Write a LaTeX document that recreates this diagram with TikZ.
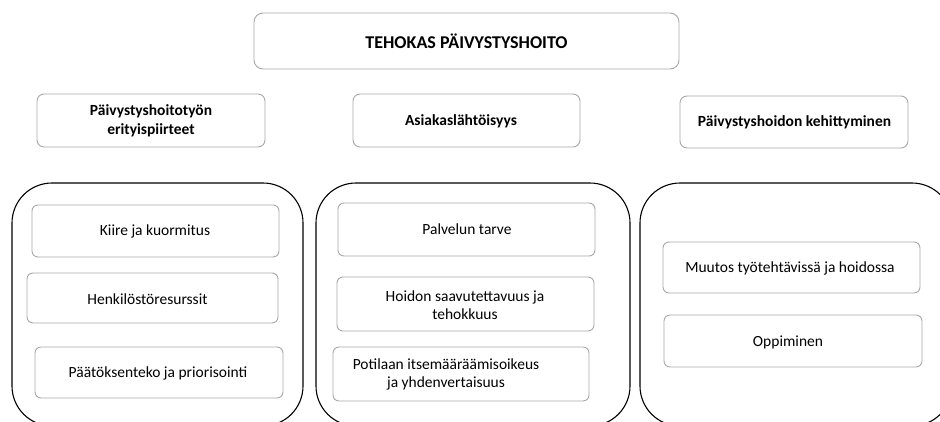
\documentclass[tikz,border=0pt]{standalone}
\usepackage{fontspec}
\setmainfont{Carlito}
\definecolor{boxgray}{RGB}{168,168,168}
\begin{document}
\begin{tikzpicture}[x=1pt,y=-1pt,
  titlebox/.style={draw=boxgray,line width=0.9pt,rounded corners=9pt,inner sep=0pt},
  headbox/.style={draw=boxgray,line width=0.9pt,rounded corners=7pt,inner sep=0pt},
  ibox/.style={draw=boxgray,line width=0.9pt,rounded corners=6pt,inner sep=0pt},
  cont/.style={draw=black,line width=1.1pt,rounded corners=40pt,inner sep=0pt},
  ttext/.style={font=\fontsize{18}{21}\selectfont\bfseries,inner sep=0pt},
  htext/.style={font=\fontsize{15.5}{19}\selectfont\bfseries,align=center,inner sep=0pt},
  itext/.style={font=\fontsize{15.5}{18}\selectfont,align=center,inner sep=0pt}]
\useasboundingbox (0,0) rectangle (940,421);
\clip (0,0) rectangle (940,421);
% containers
\node[cont,minimum width=291pt,minimum height=243pt] (c1) at (157.5,304.5) {};
\node[cont,minimum width=314pt,minimum height=243pt] (c2) at (473,304.5) {};
\node[cont,minimum width=312pt,minimum height=243pt] (c3) at (796,304.5) {};
% title
\node[titlebox,minimum width=425pt,minimum height=56pt] (top) at (466.5,41) {};
\node[ttext] (toptx) at (466.5,41) {TEHOKAS PÄIVYSTYSHOITO};
% headers
\node[headbox,minimum width=228pt,minimum height=53pt] (h1) at (151,120.5) {};
\node[htext] (h1t) at (151,121) {Päivystyshoitotyön\\erityispiirteet};
\node[headbox,minimum width=227pt,minimum height=53pt] (h2) at (466.5,120.5) {};
\node[htext] (h2t) at (461,121) {Asiakaslähtöisyys};
\node[headbox,minimum width=228pt,minimum height=52pt] (h3) at (794,122) {};
\node[htext] (h3t) at (794.5,122) {Päivystyshoidon kehittyminen};
% left column
\node[ibox,minimum width=247pt,minimum height=52pt] (a1) at (155.5,231) {};
\node[itext] (a1t) at (155,231.5) {Kiire ja kuormitus};
\node[ibox,minimum width=251pt,minimum height=50pt] (a2) at (152.5,298) {};
\node[itext] (a2t) at (147.5,299) {Henkilöstöresurssit};
\node[ibox,minimum width=248pt,minimum height=51pt] (a3) at (159,372.5) {};
\node[itext] (a3t) at (158,373) {Päätöksenteko ja priorisointi};
% middle column
\node[ibox,minimum width=257pt,minimum height=53pt] (b1) at (466.5,229.5) {};
\node[itext] (b1t) at (467,229.5) {Palvelun tarve};
\node[ibox,minimum width=257pt,minimum height=54pt] (b2) at (465.5,304) {};
\node[itext] (b2t) at (465,305) {Hoidon saavutettavuus ja\\tehokkuus};
\node[ibox,minimum width=256pt,minimum height=54pt] (b3) at (461,374) {};
\node[itext] (b3t) at (446,374) {Potilaan itsemääräämisoikeus\\ja yhdenvertaisuus};
% right column
\node[ibox,minimum width=257pt,minimum height=51pt] (d1) at (791.5,267.5) {};
\node[itext] (d1t) at (790,268) {Muutos työtehtävissä ja hoidossa};
\node[ibox,minimum width=258pt,minimum height=52pt] (d2) at (793,341) {};
\node[itext] (d2t) at (788,342) {Oppiminen};
\end{tikzpicture}
\end{document}
